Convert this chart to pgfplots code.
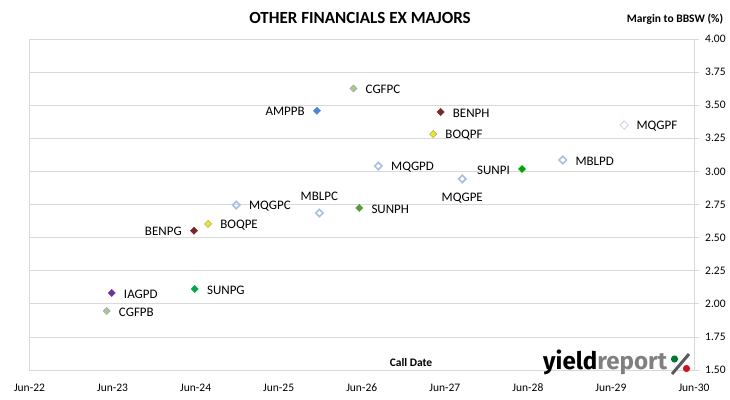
\documentclass[border=0pt]{standalone}
\usepackage{fontspec}
\setmainfont{Carlito}
\newfontfamily\logofont{Fira Sans}
\usepackage{graphicx}
\usepackage{pgfplots}
\pgfplotsset{compat=1.18}

\definecolor{gridgray}{RGB}{217,217,217}
\definecolor{cgfill}{RGB}{185,200,110}
\definecolor{cgdraw}{RGB}{130,165,215}
\definecolor{ampblue}{RGB}{74,134,216}
\definecolor{benred}{RGB}{120,40,40}
\definecolor{boqyel}{RGB}{240,230,30}
\definecolor{boqdraw}{RGB}{170,170,120}
\definecolor{hollowblue}{RGB}{170,190,225}
\definecolor{hollowlight}{RGB}{200,212,235}
\definecolor{sunpi}{RGB}{0,165,0}
\definecolor{sunph}{RGB}{90,155,60}
\definecolor{sunpg}{RGB}{0,168,80}
\definecolor{iagpurple}{RGB}{112,48,160}
\definecolor{logogray}{RGB}{128,128,128}
\definecolor{slashgray}{RGB}{90,90,90}
\definecolor{logogreen}{RGB}{0,120,50}
\definecolor{logored}{RGB}{200,20,30}

\newcommand{\lbl}{\fontsize{13}{13}\selectfont}
\newcommand{\tck}{\fontsize{11.5}{11.5}\selectfont}

\pgfplotsset{
  lblbase/.style={nodes near coords, point meta=explicit symbolic,
    every node near coord/.append style={inner sep=0pt, font=\lbl, text=black}},
  R/.style={lblbase, every node near coord/.append style={anchor=west, xshift=12pt, yshift=-1pt}},
  L/.style={lblbase, every node near coord/.append style={anchor=east, xshift=-12pt, yshift=-1pt}},
  B/.style={lblbase, every node near coord/.append style={anchor=center, yshift=-19pt}},
  A/.style={lblbase, every node near coord/.append style={anchor=center, yshift=17pt}},
  filled/.style 2 args={only marks, mark=square*, mark size=2.5pt,
    mark options={rotate=45, fill=#1, draw=#2, line width=0.5pt}},
  hollow/.style={only marks, mark=square, mark size=2.6pt,
    mark options={rotate=45, draw=hollowblue, fill=white, line width=1.6pt}},
  hollowthin/.style={only marks, mark=square, mark size=3pt,
    mark options={rotate=45, draw=hollowlight, fill=white, line width=0.8pt}},
}

\begin{document}
\begin{tikzpicture}
\path[use as bounding box] (0,0) rectangle (730pt,399pt);
\begin{axis}[
  at={(29.5pt,29pt)}, anchor=south west, scale only axis,
  width=664.5pt, height=331pt,
  xmin=0, xmax=8, ymin=1.5, ymax=4,
  xtick={0,1,2,3,4,5,6,7,8},
  xticklabels={Jun-22,Jun-23,Jun-24,Jun-25,Jun-26,Jun-27,Jun-28,Jun-29,Jun-30},
  ytick={1.5,1.75,2,2.25,2.5,2.75,3,3.25,3.5,3.75,4},
  ytick pos=right, yticklabel pos=right,
  ymajorgrids, grid style={draw=gridgray, line width=0.8pt},
  axis line style={draw=gridgray, line width=0.8pt},
  xtick style={draw=none},
  ytick style={draw=gridgray, line width=0.8pt},
  tick align=outside, major tick length=5pt,
  /pgf/number format/assume math mode=true,
  yticklabel style={/pgf/number format/.cd, fixed, fixed zerofill, precision=2, /tikz/.cd,
    font=\tck, anchor=west, inner sep=0pt, xshift=6pt},
  xticklabel style={font=\tck, inner sep=0pt, anchor=center, yshift=-13pt},
  clip=false,
]
\addplot[filled={cgfill}{cgdraw}, R] coordinates {(3.90,3.626) [CGFPC]};
\addplot[filled={ampblue}{ampblue}, L] coordinates {(3.46,3.458) [AMPPB]};
\addplot[filled={benred}{benred}, R] coordinates {(4.95,3.449) [BENPH]};
\addplot[filled={boqyel}{boqdraw}, R] coordinates {(4.86,3.282) [BOQPF]};
\addplot[hollowthin, R] coordinates {(7.16,3.350) [MQGPF]};
\addplot[hollow, R] coordinates {(6.42,3.086) [MBLPD]};
\addplot[hollow, R] coordinates {(4.20,3.041) [MQGPD]};
\addplot[filled={sunpi}{sunpi}, L] coordinates {(5.93,3.018) [SUNPI]};
\addplot[hollow, B] coordinates {(5.21,2.943) [MQGPE]};
\addplot[hollow, R] coordinates {(2.49,2.746) [MQGPC]};
\addplot[hollow, A] coordinates {(3.49,2.686) [MBLPC]};
\addplot[filled={sunph}{sunph}, R] coordinates {(3.97,2.724) [SUNPH]};
\addplot[filled={boqyel}{boqdraw}, R] coordinates {(2.15,2.603) [BOQPE]};
\addplot[filled={benred}{benred}, L] coordinates {(1.98,2.552) [BENPG]};
\addplot[filled={iagpurple}{iagpurple}, R] coordinates {(0.99,2.082) [IAGPD]};
\addplot[filled={sunpg}{sunpg}, R] coordinates {(1.99,2.112) [SUNPG]};
\addplot[filled={cgfill}{cgdraw}, R] coordinates {(0.93,1.946) [CGFPB]};
\end{axis}
\node[font=\bfseries\fontsize{17}{17}\selectfont, inner sep=0pt] at (360pt,381pt) {OTHER FINANCIALS EX MAJORS};
\node[font=\bfseries\fontsize{11.5}{11.5}\selectfont, inner sep=0pt] at (675pt,380pt) {Margin to BBSW (\%)};
\node[font=\bfseries\fontsize{11.5}{11.5}\selectfont, inner sep=0pt] at (411pt,36pt) {Call Date};
\node[anchor=base west, inner sep=0pt] at (543pt,30pt) {\resizebox{124pt}{!}{\logofont\bfseries yield\textcolor{logogray}{report}}};
\draw[slashgray, line width=3pt] (672pt,25pt) -- (689pt,45pt);
\fill[logogreen] (674.5pt,40pt) circle (3.6pt);
\fill[logored] (686.5pt,30.5pt) circle (3.6pt);
\end{tikzpicture}
\end{document}
